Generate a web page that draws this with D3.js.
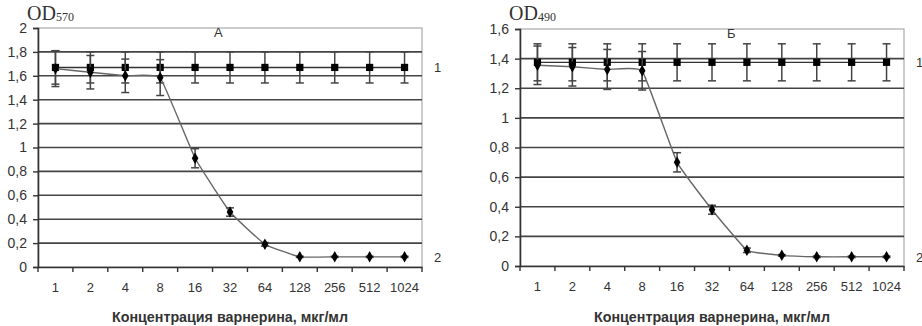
<!DOCTYPE html>
<html>
<head>
<meta charset="utf-8">
<script src="https://cdn.jsdelivr.net/npm/d3@7"></script>
<style>
	body { margin: 0; background: #fff; }
	svg text { font-family: Arial, "Liberation Sans", sans-serif; fill: #333; }
</style>
</head>
<body>
<svg id="chart" width="922" height="326"></svg>
<script>
// концентрации варнерина, мкг/мл
const concentrations = ["1", "2", "4", "8", "16", "32", "64", "128", "256", "512", "1024"];

// панель А, OD570
const odA1 = [1.67, 1.67, 1.67, 1.67, 1.67, 1.67, 1.67, 1.67, 1.67, 1.67, 1.67];
const odA1Err = [0.14, 0.13, 0.13, 0.13, 0.13, 0.13, 0.13, 0.13, 0.13, 0.13, 0.13];
const odA2 = [1.66, 1.63, 1.60, 1.585, 0.91, 0.46, 0.19, 0.085, 0.085, 0.085, 0.085];
const odA2Err = [0.15, 0.14, 0.14, 0.15, 0.08, 0.035, 0.015, 0.005, 0.005, 0.005, 0.005];
const yTicksA = [0, 0.2, 0.4, 0.6, 0.8, 1, 1.2, 1.4, 1.6, 1.8, 2];

// панель Б, OD490
const odB1 = [1.375, 1.375, 1.375, 1.375, 1.375, 1.375, 1.375, 1.375, 1.375, 1.375, 1.375];
const odB1Err = [0.125, 0.125, 0.125, 0.125, 0.125, 0.125, 0.125, 0.125, 0.125, 0.125, 0.125];
const odB2 = [1.355, 1.345, 1.327, 1.318, 0.70, 0.38, 0.106, 0.072, 0.062, 0.062, 0.062];
const odB2Err = [0.13, 0.13, 0.135, 0.13, 0.065, 0.03, 0.015, 0.005, 0.005, 0.005, 0.005];
const yTicksB = [0, 0.2, 0.4, 0.6, 0.8, 1, 1.2, 1.4, 1.6];

const svg = d3.select("#chart");
const fmt = d => String(d).replace(".", ",");

//-------------------------
function drawPanel(opts) {
	const g = svg.append("g");
	const x = d3.scaleBand().domain(concentrations).range([opts.left, opts.left + 384]);
	const y = d3.scaleLinear().domain([0, opts.yMax]).range([opts.bottom, opts.top]);
	const cx = d => x(d) + x.bandwidth() / 2;

	// рамка
	g.append("rect")
		.attr("x", opts.left).attr("y", opts.top)
		.attr("width", 384).attr("height", opts.bottom - opts.top)
		.attr("fill", "none").attr("stroke", "#aaa").attr("stroke-width", 1.2);

	// сетка
	g.selectAll(".grid")
		.data(opts.yTicks.filter(t => t > 0 && t < opts.yMax))
		.enter().append("line")
			.attr("x1", opts.left).attr("x2", opts.left + 384)
			.attr("y1", d => y(d)).attr("y2", d => y(d))
			.attr("stroke", "#444").attr("stroke-width", 1.6);

	// оси
	const yAxis = g.append("g")
		.attr("transform", `translate(${opts.left},0)`)
		.call(d3.axisLeft(y).tickValues(opts.yTicks).tickFormat(fmt).tickSize(5).tickPadding(6));
	yAxis.select(".domain").attr("stroke", "#333").attr("stroke-width", 1.6);
	yAxis.selectAll(".tick line").attr("stroke", "#333").attr("stroke-width", 1.4);
	yAxis.selectAll("text").style("font-size", "14px").attr("fill", "#444");

	const xAxis = g.append("g")
		.attr("transform", `translate(0,${opts.bottom})`)
		.call(d3.axisBottom(x).tickSize(0).tickPadding(16));
	xAxis.select(".domain").attr("stroke", "#333").attr("stroke-width", 1.6);
	xAxis.selectAll("text").style("font-size", "13px").attr("fill", "#444");
	g.selectAll(".xtick")
		.data(concentrations.concat(["end"]))
		.enter().append("line")
			.attr("x1", (d, i) => opts.left + i * x.bandwidth())
			.attr("x2", (d, i) => opts.left + i * x.bandwidth())
			.attr("y1", opts.bottom).attr("y2", opts.bottom + 5)
			.attr("stroke", "#333").attr("stroke-width", 1.4);

	// серии
	const series = [
		{ values: opts.s1, err: opts.s1Err, curve: d3.curveLinear, color: "#333", marker: "square" },
		{ values: opts.s2, err: opts.s2Err, curve: d3.curveCardinal.tension(0.7), color: "#666", marker: "diamond" }
	];
	series.forEach(s => {
		const pts = concentrations.map((c, i) => ({ c: c, v: s.values[i], e: s.err[i] }));

		g.append("path")
			.datum(pts)
			.attr("fill", "none").attr("stroke", s.color).attr("stroke-width", 1.4)
			.attr("d", d3.line().x(d => cx(d.c)).y(d => y(d.v)).curve(s.curve));

		const eb = g.selectAll(null).data(pts).enter().append("g");
		eb.append("line")
			.attr("x1", d => cx(d.c)).attr("x2", d => cx(d.c))
			.attr("y1", d => y(d.v - d.e)).attr("y2", d => y(d.v + d.e))
			.attr("stroke", "#444").attr("stroke-width", 1.5);
		[-1, 1].forEach(sgn => {
			eb.append("line")
				.attr("x1", d => cx(d.c) - 4).attr("x2", d => cx(d.c) + 4)
				.attr("y1", d => y(d.v + sgn * d.e)).attr("y2", d => y(d.v + sgn * d.e))
				.attr("stroke", "#444").attr("stroke-width", 1.5);
		});

		const sym = s.marker === "square" ? d3.symbolSquare : d3.symbolDiamond;
		g.selectAll(null).data(pts).enter().append("path")
			.attr("transform", d => `translate(${cx(d.c)},${y(d.v)})`)
			.attr("d", d3.symbol().type(sym).size(s.marker === "square" ? 52 : 38))
			.attr("fill", "#000");
	});

	// подписи
	g.append("text")
		.attr("x", opts.letterX).attr("y", opts.top + 9)
		.style("font-size", "13px").text(opts.letter);
	g.append("text")
		.attr("x", opts.left + 396).attr("y", y(opts.s1[10]) + 5)
		.style("font-size", "13px").text("1");
	g.append("text")
		.attr("x", opts.left + 396).attr("y", y(opts.s2[10]) + 5)
		.style("font-size", "13px").text("2");

	const od = g.append("text")
		.attr("x", opts.left - 11).attr("y", 20)
		.style("font-family", "'Liberation Serif', 'Times New Roman', serif")
		.style("font-size", "20px").attr("fill", "#000");
	od.append("tspan").text("OD");
	od.append("tspan").attr("dy", 1).style("font-size", "12px").text(opts.sub);

	g.append("text")
		.attr("x", opts.left + 192).attr("y", 322)
		.attr("text-anchor", "middle")
		.attr("textLength", 236).attr("lengthAdjust", "spacingAndGlyphs")
		.style("font-family", "'Liberation Sans', Arial, sans-serif")
		.style("font-size", "15px").style("font-weight", "bold").attr("fill", "#222")
		.text("Концентрация варнерина, мкг/мл");
}

drawPanel({
	left: 38, top: 28, bottom: 267, yMax: 2, yTicks: yTicksA,
	s1: odA1, s1Err: odA1Err, s2: odA2, s2Err: odA2Err,
	letter: "А", letterX: 214, sub: "570"
});

drawPanel({
	left: 520, top: 29, bottom: 266, yMax: 1.6, yTicks: yTicksB,
	s1: odB1, s1Err: odB1Err, s2: odB2, s2Err: odB2Err,
	letter: "Б", letterX: 727, sub: "490"
});
</script>
</body>
</html>
